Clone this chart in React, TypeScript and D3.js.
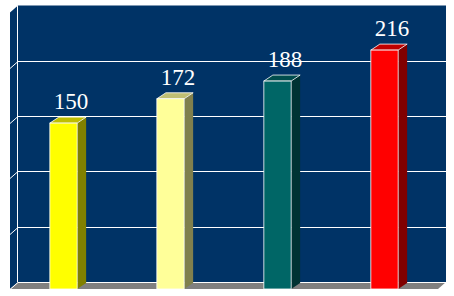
import React from "react";
import * as d3 from "d3";

const categories = ["A", "B", "C", "D"];
const values = [150, 172, 188, 216];
const colors = ["#ffff00", "#ffff99", "#006666", "#ff0000"];
const gridTicks = [0, 50, 100, 150, 200];
const yMax = 250;

const W = 454;
const H = 296;
const X0 = 10;
const X1 = 438;
const BASE = 289;
const TOP = 12.5;
const DX = 8;
const DY = 7;
const BDX = 9;
const BDY = 6;

export default function App() {
  const x = d3.scaleBand<string>().domain(categories).range([X0, X1]);
  const y = d3.scaleLinear().domain([0, yMax]).range([BASE, TOP]);
  const bw = x.bandwidth() * 0.255;
  const navy = "#003366";

  const pts = (p: [number, number][]) => p.map((q) => q.join(",")).join(" ");

  return (
    <svg
      width={W}
      height={H}
      style={{ position: "absolute", left: 0, top: 0, background: "#fff" }}
    >
      {/* back wall */}
      <rect x={X0 + DX} y={y(yMax) - DY} width={X1 - X0} height={y(0) - y(yMax)} fill={navy} />
      {/* left wall */}
      <polygon
        points={pts([
          [X0, y(yMax)],
          [X0 + DX, y(yMax) - DY],
          [X0 + DX, y(0) - DY],
          [X0, y(0)],
        ])}
        fill={navy}
      />
      {/* floor */}
      <polygon
        points={pts([
          [X0, y(0)],
          [X0 + DX, y(0) - DY],
          [X1 + DX, y(0) - DY],
          [X1, y(0)],
        ])}
        fill="#808080"
      />
      {/* gridlines */}
      {gridTicks.map((t) => {
        const yy = Math.round(y(t) - DY) + 0.5;
        return (
          <g key={t}>
            <line x1={X0 + DX} x2={X1 + DX} y1={yy} y2={yy} stroke="#fff" strokeWidth={1} />
            <line x1={X0} x2={X0 + DX} y1={yy + DY} y2={yy} stroke="#fff" strokeWidth={1} />
          </g>
        );
      })}
      <line x1={X0 + DX - 0.5} x2={X0 + DX - 0.5} y1={y(yMax) - DY} y2={y(0) - DY} stroke="#fff" strokeWidth={1} />
      {/* bars */}
      {categories.map((c, i) => {
        const cx = (x(c) as number) + x.bandwidth() / 2;
        const xl = cx - bw / 2;
        const xr = cx + bw / 2;
        const yt = y(values[i]);
        const col = d3.color(colors[i]) as d3.RGBColor;
        const side = d3.rgb(col.r * 0.5, col.g * 0.5, col.b * 0.5).toString();
        const cap = d3.rgb(col.r * 0.75, col.g * 0.75, col.b * 0.75).toString();
        return (
          <g key={c}>
            <polygon
              points={pts([
                [xr, yt],
                [xr + BDX, yt - BDY],
                [xr + BDX, BASE - BDY],
                [xr, BASE],
              ])}
              fill={side}
            />
            <polygon
              points={pts([
                [xl, yt],
                [xl + BDX, yt - BDY],
                [xr + BDX, yt - BDY],
                [xr, yt],
              ])}
              fill={cap}
              stroke="#fff"
              strokeWidth={0.8}
              strokeLinejoin="round"
            />
            <rect x={xl} y={yt} width={bw} height={BASE - yt} fill={colors[i]} stroke="#fff" strokeWidth={0.8} />
            <text
              x={cx + 7.5}
              y={yt - BDY - 8}
              textAnchor="middle"
              fill="#fff"
              fontFamily="'Liberation Serif', 'Times New Roman', serif"
              fontSize={23}
            >
              {values[i]}
            </text>
          </g>
        );
      })}
    </svg>
  );
}
